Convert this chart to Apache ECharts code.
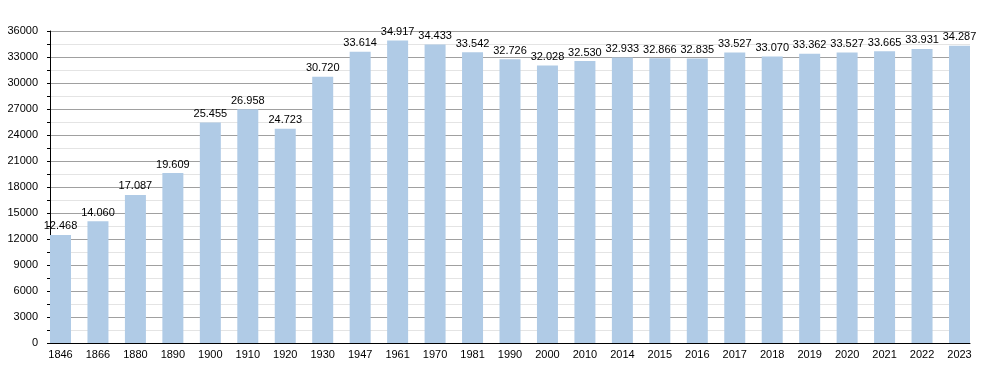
<!DOCTYPE html>
<html><head><meta charset="utf-8">
<script src="https://cdn.jsdelivr.net/npm/echarts@6/dist/echarts.min.js"></script>
<style>html,body{margin:0;padding:0;background:#fff}#c{width:1000px;height:373px}</style>
</head><body><div id="c"></div>
<script>
const categories = ["1846","1866","1880","1890","1900","1910","1920","1930","1947","1961","1970","1981","1990","2000","2010","2014","2015","2016","2017","2018","2019","2020","2021","2022","2023"];
const population = [12468,14060,17087,19609,25455,26958,24723,30720,33614,34917,34433,33542,32726,32028,32530,32933,32866,32835,33527,33070,33362,33527,33665,33931,34287];
const yMin = 0, yMax = 36000, yStep = 3000;

function fmt(v){ const s = String(v); return s.length > 3 ? s.slice(0, s.length-3) + '.' + s.slice(-3) : s; }

const chart = echarts.init(document.getElementById('c'), null, {renderer:'canvas'});
const font = 'Liberation Sans, Arial, sans-serif';
chart.setOption({
  animation:false,
  grid:[
    {left:50, right:30, top:31, bottom:30},
    {left:41.77, right:21.77, top:31, bottom:30}
  ],
  xAxis:[
    {gridIndex:0, type:'value', min:0, max:1, show:true, axisLine:{show:true,onZero:false,lineStyle:{color:'#000',width:1}}, axisTick:{show:false}, axisLabel:{show:false}, splitLine:{show:false}},
    {gridIndex:1, type:'category', data:categories, boundaryGap:true, axisLine:{show:false}, axisTick:{show:false},
     axisLabel:{color:'#000', fontSize:11, fontFamily:font, margin:6, interval:0}}
  ],
  yAxis:[
    {gridIndex:0, type:'value', min:yMin, max:yMax, interval:yStep,
     axisLine:{show:true, lineStyle:{color:'#000',width:1}},
     axisTick:{show:true, inside:false, length:3, lineStyle:{color:'#000'}},
     minorTick:{show:true, splitNumber:2, length:3, lineStyle:{color:'#000'}},
     axisLabel:{color:'#000', fontSize:11, fontFamily:font, margin:12, formatter:v=>String(v)},
     splitLine:{show:true, lineStyle:{color:'#a0a0a0', width:1}},
     minorSplitLine:{show:true, lineStyle:{color:'#e4e4e4', width:1}}
    },
    {gridIndex:1, type:'value', min:yMin, max:yMax, interval:yStep, show:false}
  ],
  series:[{
    type:'bar', xAxisIndex:1, yAxisIndex:1, data:population, barWidth:21,
    itemStyle:{color:'#b0cbe6'},
    label:{show:true, position:'top', distance:3, color:'#000', fontSize:11, fontFamily:font,
      formatter:p=>fmt(p.value)}
  }]
});
</script></body></html>
